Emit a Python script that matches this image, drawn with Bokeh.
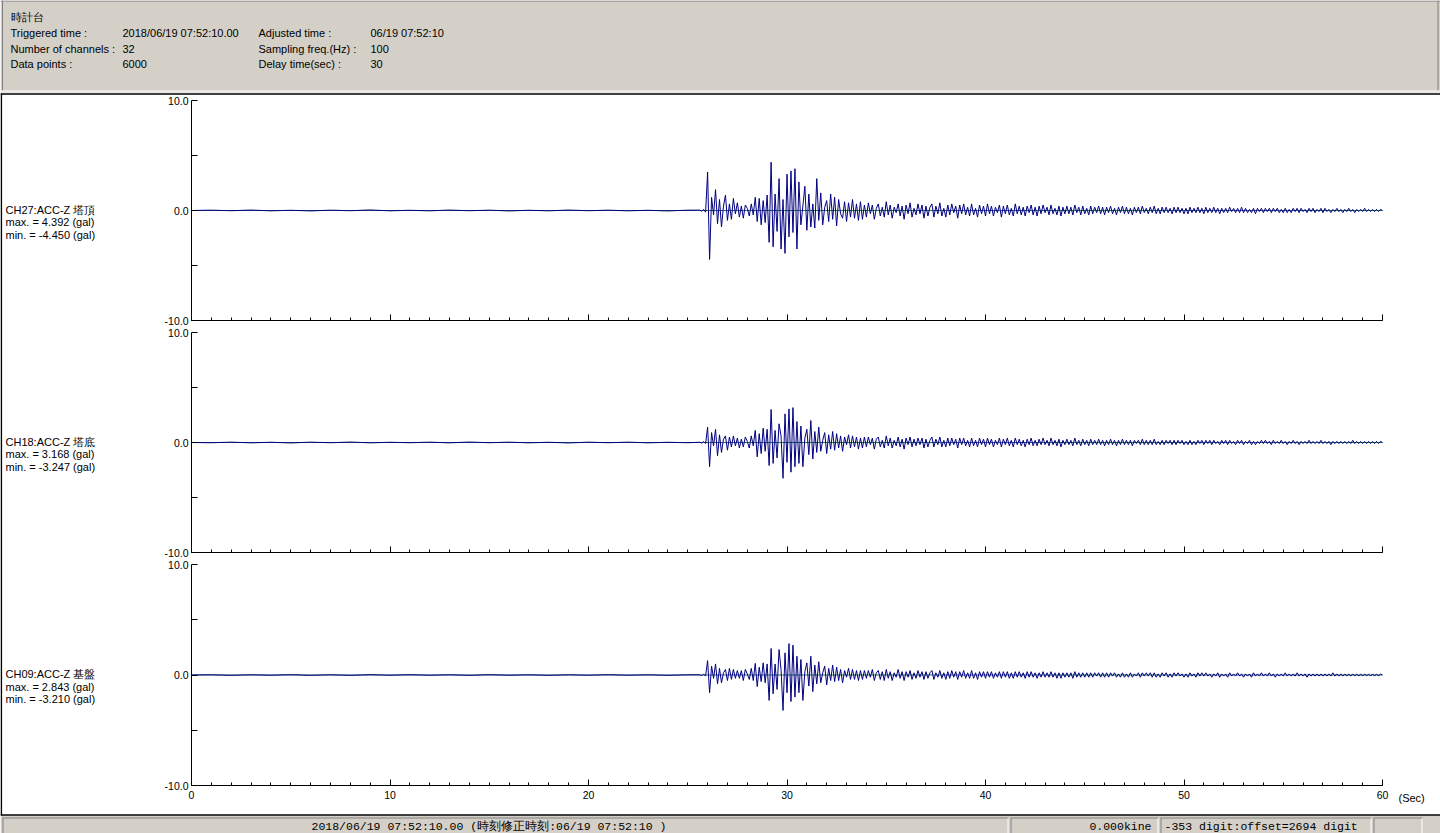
import numpy as np
from bokeh.plotting import figure
from bokeh.models import Range1d, LinearAxis, FixedTicker, ColumnDataSource
from bokeh.core.properties import value
from bokeh.embed import file_html
from bokeh.resources import INLINE

# ---------------- data ----------------
header_labels = ["Triggered time :", "Number of channels :", "Data points :",
                 "Adjusted time :", "Sampling freq.(Hz) :", "Delay time(sec) :"]
header_values = ["2018/06/19 07:52:10.00", "32", "6000",
                 "06/19 07:52:10", "100", "30"]
station = "時計台"

channel_names = ["CH27:ACC-Z 塔頂", "CH18:ACC-Z 塔底", "CH09:ACC-Z 基盤"]
channel_max = [4.392, 3.168, 2.843]
channel_min = [-4.450, -3.247, -3.210]

y_ticks = [-10, -5, 0, 5, 10]
y_tick_labels = ["-10.0", "", "0.0", "", "10.0"]
x_major = [0, 10, 20, 30, 40, 50, 60]
x_minor = list(range(0, 61))
x_unit = "(Sec)"

status_left = "2018/06/19 07:52:10.00  (時刻修正時刻:06/19 07:52:10  )"
status_mid = "0.000kine"
status_right = "-353 digit:offset=2694 digit"

# sample times (s): pre-event every 1 s, main shaking 25.6-34.0 and coda 34.1-60.0 every 0.1 s
t_pre = np.arange(0, 26) * 1.0
t_main = np.round(np.arange(256, 341) * 0.1, 1)
t_tail = np.round(np.arange(341, 601) * 0.1, 1)

# accelerations (gal) read from the record
ch27_pre = [0.00, 0.03, -0.02, 0.04, -0.03, 0.02, -0.04, 0.03, -0.02, 0.05, -0.03, 0.02, -0.03,
            0.04, -0.02, 0.03, -0.04, 0.02, -0.03, 0.04, -0.02, 0.03, -0.03, 0.02, -0.04, 0.03]
ch27_main = [0.03, -0.06, 0.10, -0.15, 3.50, -4.45, 1.20, -0.40, 1.90, -1.20,
             1.00, -1.50, 0.40, 1.40, -0.90, 0.60, -0.80, 1.10, -0.30, 0.70,
             -0.60, 0.40, -0.70, 0.50, 0.20, -0.50, 0.60, -0.40, 1.20, -1.00,
             1.10, -1.30, 0.90, -1.10, 1.40, -2.90, 4.39, -3.30, 1.50, -1.90,
             2.90, -3.50, 1.00, -3.90, 3.30, -2.40, 3.60, -2.00, 3.80, -3.50,
             2.60, -1.30, 0.40, 2.20, -1.80, 1.50, -1.50, 0.60, -1.60, 2.90,
             -0.90, 1.60, -1.30, 0.30, 0.90, -1.00, 1.50, -0.80, 1.20, -1.40,
             1.00, -0.30, -0.70, 0.80, -1.00, 0.70, -0.60, 1.00, -0.70, 0.60,
             -0.90, 0.80, -0.80, 0.50, -0.60]
ch27_tail = [0.7, -0.3, 0.5, -0.8, 0.2, 0.6, -0.5, 0.3, -0.6, 0.8,
             -0.4, 0.5, -0.7, 0.3, -0.2, 0.6, -0.5, 0.4, -0.8, 0.5,
             -0.3, 0.7, -0.6, 0.2, -0.4, 0.6, -0.3, 0.5, -0.7, 0.4,
             -0.5, 0.3, 0.6, -0.6, 0.4, -0.3, 0.7, -0.5, 0.2, -0.6,
             0.5, -0.4, 0.6, -0.2, 0.4, -0.7, 0.5, -0.3, 0.6, -0.4,
             0.3, -0.5, 0.6, -0.4, 0.2, -0.6, 0.5, -0.3, 0.4, -0.5,
             0.6, -0.3, 0.4, -0.5, 0.3, -0.2, 0.5, -0.6, 0.4, -0.3,
             0.5, -0.4, 0.2, -0.5, 0.6, -0.3, 0.4, -0.4, 0.3, -0.5,
             0.4, -0.2, 0.5, -0.4, 0.3, -0.5, 0.4, -0.3, 0.5, -0.2,
             0.3, -0.4, 0.5, -0.3, 0.2, -0.4, 0.4, -0.5, 0.3, -0.3,
             0.4, -0.3, 0.3, -0.4, 0.5, -0.2, 0.3, -0.4, 0.4, -0.3,
             0.2, -0.4, 0.4, -0.3, 0.3, -0.2, 0.4, -0.3, 0.3, -0.4,
             0.3, -0.2, 0.4, -0.3, 0.2, -0.4, 0.3, -0.2, 0.4, -0.3,
             0.3, -0.3, 0.2, -0.4, 0.3, -0.2, 0.3, -0.3, 0.4, -0.2,
             0.2, -0.3, 0.3, -0.2, 0.4, -0.3, 0.2, -0.3, 0.3, -0.2,
             0.3, -0.2, 0.2, -0.3, 0.3, -0.2, 0.3, -0.2, 0.2, -0.3,
             0.2, -0.3, 0.3, -0.2, 0.2, -0.2, 0.3, -0.2, 0.2, -0.3,
             0.3, -0.2, 0.2, -0.2, 0.3, -0.2, 0.2, -0.3, 0.2, -0.2,
             0.2, -0.2, 0.3, -0.1, 0.2, -0.2, 0.2, -0.2, 0.3, -0.2,
             0.2, -0.2, 0.1, -0.2, 0.2, -0.3, 0.2, -0.1, 0.2, -0.2,
             0.2, -0.1, 0.2, -0.2, 0.2, -0.1, 0.2, -0.2, 0.1, -0.2,
             0.2, -0.2, 0.1, -0.2, 0.2, -0.1, 0.2, -0.2, 0.2, -0.1,
             0.1, -0.2, 0.2, -0.1, 0.2, -0.2, 0.1, -0.1, 0.2, -0.2,
             0.2, -0.1, 0.1, -0.2, 0.1, -0.1, 0.2, -0.1, 0.1, -0.2,
             0.1, -0.1, 0.2, -0.1, 0.1, -0.2, 0.1, -0.1, 0.1, -0.1,
             0.2, -0.1, 0.1, -0.1, 0.1, -0.1, 0.1, -0.1, 0.1, 0.0]

ch18_pre = [0.00, -0.02, 0.03, -0.03, 0.02, -0.04, 0.03, -0.02, 0.04, -0.03, 0.02, -0.02, 0.03,
            -0.03, 0.04, -0.02, 0.03, -0.03, 0.02, -0.04, 0.03, -0.02, 0.03, -0.03, 0.02, -0.02]
ch18_main = [0.02, -0.05, 0.08, -0.10, 1.40, -2.20, 0.90, -0.30, 1.20, -1.20,
             0.70, -0.90, 0.30, 0.60, -0.70, 0.50, -0.40, 0.60, -0.30, 0.40,
             -0.50, 0.30, -0.40, 0.50, 0.10, -0.50, 0.60, -0.30, 1.10, -1.30,
             0.80, -1.00, 1.30, -0.80, 1.20, -2.10, 3.00, -1.90, 1.10, -1.40,
             1.70, 0.60, -3.25, 2.60, -1.80, 3.05, -2.70, 3.17, -2.20, 1.90,
             -1.90, 1.50, -2.20, 0.40, 1.20, -1.10, 2.00, -1.50, 1.00, -0.90,
             1.40, -0.80, 0.20, 0.90, -1.00, 0.70, -0.60, 1.00, -0.70, 0.80,
             -0.50, 0.60, -0.80, 0.50, -0.20, 0.70, -0.50, 0.60, -0.40, 0.50,
             -0.60, 0.40, -0.50, 0.50, -0.40]
ch18_tail = [0.5, -0.2, 0.4, -0.6, 0.3, 0.5, -0.4, 0.2, -0.5, 0.6,
             -0.3, 0.4, -0.5, 0.2, -0.3, 0.5, -0.4, 0.3, -0.6, 0.4,
             -0.2, 0.5, -0.4, 0.3, -0.3, 0.4, -0.2, 0.4, -0.5, 0.3,
             -0.4, 0.2, 0.5, -0.4, 0.3, -0.2, 0.5, -0.4, 0.2, -0.4,
             0.4, -0.3, 0.4, -0.2, 0.3, -0.5, 0.4, -0.2, 0.4, -0.3,
             0.2, -0.4, 0.4, -0.3, 0.2, -0.4, 0.4, -0.2, 0.3, -0.4,
             0.4, -0.2, 0.3, -0.4, 0.2, -0.2, 0.4, -0.4, 0.3, -0.2,
             0.4, -0.3, 0.2, -0.4, 0.4, -0.2, 0.3, -0.3, 0.2, -0.4,
             0.3, -0.2, 0.4, -0.3, 0.2, -0.3, 0.3, -0.2, 0.4, -0.2,
             0.2, -0.3, 0.4, -0.2, 0.2, -0.3, 0.3, -0.4, 0.2, -0.2,
             0.3, -0.2, 0.2, -0.3, 0.4, -0.2, 0.2, -0.3, 0.3, -0.2,
             0.2, -0.3, 0.3, -0.2, 0.2, -0.2, 0.3, -0.2, 0.2, -0.3,
             0.2, -0.2, 0.3, -0.2, 0.2, -0.3, 0.2, -0.2, 0.3, -0.2,
             0.2, -0.2, 0.2, -0.3, 0.2, -0.1, 0.2, -0.2, 0.3, -0.2,
             0.2, -0.2, 0.2, -0.2, 0.3, -0.2, 0.1, -0.2, 0.2, -0.2,
             0.2, -0.1, 0.2, -0.2, 0.2, -0.2, 0.2, -0.1, 0.2, -0.2,
             0.1, -0.2, 0.2, -0.2, 0.1, -0.2, 0.2, -0.1, 0.2, -0.2,
             0.2, -0.1, 0.2, -0.2, 0.2, -0.1, 0.1, -0.2, 0.2, -0.1,
             0.2, -0.2, 0.2, -0.1, 0.1, -0.2, 0.2, -0.1, 0.2, -0.2,
             0.1, -0.1, 0.2, -0.2, 0.1, -0.2, 0.1, -0.1, 0.2, -0.1,
             0.2, -0.1, 0.1, -0.2, 0.2, -0.1, 0.1, -0.1, 0.2, -0.1,
             0.1, -0.2, 0.1, -0.1, 0.2, -0.1, 0.1, -0.2, 0.1, -0.1,
             0.1, -0.1, 0.2, -0.1, 0.1, -0.1, 0.1, -0.1, 0.2, -0.1,
             0.1, -0.1, 0.1, -0.2, 0.1, -0.1, 0.1, -0.1, 0.1, -0.1,
             0.1, -0.1, 0.1, -0.1, 0.2, -0.1, 0.1, -0.1, 0.1, -0.1,
             0.1, -0.1, 0.1, -0.1, 0.1, -0.1, 0.1, -0.1, 0.1, 0.0]

ch09_pre = [0.00, 0.02, -0.03, 0.02, -0.02, 0.03, -0.03, 0.02, -0.03, 0.03, -0.02, 0.03, -0.02,
            0.02, -0.03, 0.03, -0.02, 0.02, -0.03, 0.02, -0.02, 0.03, -0.02, 0.02, -0.03, 0.02]
ch09_main = [0.02, -0.04, 0.06, -0.08, 1.30, -1.60, 0.80, -0.30, 1.00, -0.80,
             0.60, -0.70, 0.20, 0.50, -0.50, 0.60, -0.40, 0.50, -0.30, 0.40,
             -0.30, 0.40, -0.50, 0.50, 0.10, -0.40, 0.60, -0.50, 1.05, -1.05,
             0.70, -0.60, 1.10, -0.70, 1.00, -2.30, 2.40, -1.70, 1.00, -1.30,
             2.30, 0.50, -3.21, 2.00, -1.60, 2.84, -2.40, 2.70, -2.00, 1.70,
             -1.60, 1.40, -2.30, 0.30, 1.10, -1.00, 1.70, -1.50, 0.90, -0.80,
             1.20, -0.70, 0.20, 0.80, -0.90, 0.60, -0.50, 0.90, -0.60, 0.70,
             -0.50, 0.50, -0.70, 0.40, -0.20, 0.60, -0.40, 0.50, -0.40, 0.40,
             -0.50, 0.40, -0.40, 0.40, -0.30]
ch09_tail = [0.4, -0.2, 0.5, -0.5, 0.2, 0.4, -0.4, 0.3, -0.5, 0.5,
             -0.3, 0.3, -0.5, 0.2, -0.2, 0.5, -0.3, 0.3, -0.5, 0.3,
             -0.2, 0.4, -0.4, 0.2, -0.3, 0.4, -0.2, 0.3, -0.4, 0.3,
             -0.3, 0.2, 0.4, -0.4, 0.2, -0.2, 0.4, -0.3, 0.2, -0.4,
             0.3, -0.3, 0.4, -0.2, 0.3, -0.4, 0.3, -0.2, 0.4, -0.3,
             0.2, -0.3, 0.4, -0.3, 0.2, -0.4, 0.3, -0.2, 0.3, -0.3,
             0.3, -0.2, 0.3, -0.3, 0.2, -0.2, 0.3, -0.3, 0.3, -0.2,
             0.3, -0.3, 0.2, -0.3, 0.3, -0.2, 0.3, -0.2, 0.2, -0.3,
             0.3, -0.2, 0.3, -0.2, 0.2, -0.3, 0.2, -0.2, 0.3, -0.2,
             0.2, -0.2, 0.3, -0.2, 0.2, -0.3, 0.2, -0.3, 0.2, -0.2,
             0.2, -0.2, 0.2, -0.3, 0.3, -0.2, 0.2, -0.2, 0.2, -0.2,
             0.2, -0.2, 0.2, -0.2, 0.2, -0.1, 0.2, -0.2, 0.2, -0.2,
             0.2, -0.2, 0.2, -0.1, 0.2, -0.2, 0.1, -0.2, 0.2, -0.2,
             0.1, -0.2, 0.2, -0.2, 0.1, -0.1, 0.2, -0.2, 0.2, -0.1,
             0.2, -0.1, 0.2, -0.2, 0.2, -0.2, 0.1, -0.2, 0.2, -0.1,
             0.2, -0.2, 0.1, -0.2, 0.2, -0.1, 0.2, -0.1, 0.1, -0.2,
             0.1, -0.2, 0.2, -0.1, 0.1, -0.2, 0.2, -0.1, 0.2, -0.1,
             0.2, -0.1, 0.1, -0.2, 0.1, -0.1, 0.2, -0.2, 0.1, -0.1,
             0.1, -0.2, 0.2, -0.1, 0.1, -0.1, 0.2, -0.1, 0.1, -0.2,
             0.1, -0.1, 0.1, -0.2, 0.2, -0.1, 0.1, -0.1, 0.2, -0.1,
             0.1, -0.1, 0.2, -0.1, 0.1, -0.2, 0.1, -0.1, 0.1, -0.1,
             0.2, -0.1, 0.1, -0.1, 0.1, -0.1, 0.2, -0.1, 0.1, -0.1,
             0.1, -0.2, 0.1, -0.1, 0.1, -0.1, 0.1, -0.1, 0.1, -0.1,
             0.1, -0.1, 0.1, -0.1, 0.2, -0.1, 0.1, -0.1, 0.1, -0.1,
             0.1, -0.1, 0.1, -0.1, 0.1, -0.1, 0.1, -0.1, 0.1, -0.1,
             0.1, -0.1, 0.1, -0.1, 0.1, -0.1, 0.1, -0.1, 0.1, 0.0]

series = [(ch27_pre, ch27_main, ch27_tail),
          (ch18_pre, ch18_main, ch18_tail),
          (ch09_pre, ch09_main, ch09_tail)]

# ---------------- layout (screen pixels of the 1440x833 window) ----------------
PX0, PY0 = 0, 0
W, H = 1440, 833
X0_PX, X60_PX = 191, 1382
PANELS = [(100, 320), (332, 552), (564, 785)]   # (+10 gal, -10 gal) pixel rows
LAB_X = 5
GRAY = "#d4d0c8"
FONT = "Liberation Sans"
MONO = "Liberation Mono"

p = figure(width=W, height=H, output_backend="svg", toolbar_location=None,
           x_range=Range1d(PX0, PX0 + W), y_range=Range1d(PY0 + H, PY0),
           x_axis_type=None, y_axis_type=None, min_border=0,
           outline_line_color=None, background_fill_color="white",
           border_fill_color="white")

sx = (X60_PX - X0_PX) / 60.0
p.extra_x_ranges["sec"] = Range1d(-(X0_PX - PX0) / sx, 60 + (PX0 + W - X60_PX) / sx)
for k, (top, bot) in enumerate(PANELS):
    sy = (bot - top) / 20.0
    p.extra_y_ranges[f"p{k}"] = Range1d(-10 - (PY0 + H - bot) / sy, 10 + (top - PY0) / sy)


def put_text(xs, ys, texts, font=FONT, size="11px", align="left", baseline="middle"):
    src = ColumnDataSource(dict(x=xs, y=ys, t=texts))
    p.text("x", "y", text="t", source=src, text_font=value(font),
           text_font_size=value(size), text_align=align, text_baseline=baseline,
           text_color="black")


# header box
p.quad(left=0, right=1440, top=0, bottom=92, fill_color=GRAY, line_color=None)
p.line([0, 1440], [0.5, 0.5], line_color="#808080", line_width=1)
p.line([2, 2], [0, 90], line_color="#808080", line_width=1)
p.line([1437.5, 1437.5], [0, 90], line_color="#808080", line_width=1)
p.line([0, 1440], [90.5, 90.5], line_color="white", line_width=1)
p.line([0, 1440], [93.5, 93.5], line_color="black", line_width=1.5)
p.line([0.8, 0.8], [93, 815], line_color="black", line_width=1.6)

put_text([10], [16], [station])
put_text([10, 10, 10, 258, 258, 258], [32, 48, 63.5, 32, 48, 63.5], header_labels)
put_text([122, 122, 122, 370, 370, 370], [32, 48, 63.5, 32, 48, 63.5], header_values)

# status bar
p.quad(left=0, right=1440, top=815, bottom=840, fill_color=GRAY, line_color=None)
p.line([0, 1440], [814.5, 814.5], line_color="black", line_width=1.5)
for (l, r) in [(2, 1008), (1010, 1158), (1160, 1371), (1373, 1422)]:
    p.line([l, r], [817.5, 817.5], line_color="#808080", line_width=1)
    p.line([l + 0.5, l + 0.5], [817.5, 840], line_color="#808080", line_width=1)
    p.line([r - 0.5, r - 0.5], [818, 840], line_color="white", line_width=1)
put_text([311], [825.5], [status_left], font=MONO, size="11.5px")
put_text([1151], [825.5], [status_mid], font=MONO, size="11.5px", align="right")
put_text([1164], [825.5], [status_right], font=MONO, size="11.5px")

# panels
t_all = np.concatenate([t_pre, t_main, t_tail])
for k, (pre, main, tail) in enumerate(series):
    yr = f"p{k}"
    v = np.concatenate([pre, main, tail])
    assert len(v) == len(t_all), (k, len(pre), len(main), len(tail))
    p.line([x_major[0], x_major[-1]], [0, 0], x_range_name="sec", y_range_name=yr,
           line_color="#2f6f6a", line_width=1)
    p.line(t_all, v, x_range_name="sec", y_range_name=yr, line_color="#000080", line_width=1)

    yax = LinearAxis(x_range_name="sec", y_range_name=yr, fixed_location=0, bounds=(-10, 10),
                     ticker=FixedTicker(ticks=y_ticks, minor_ticks=[]),
                     major_label_overrides={t: s for t, s in zip(y_ticks, y_tick_labels)},
                     major_tick_in=6, major_tick_out=0, minor_tick_in=0, minor_tick_out=0,
                     major_label_standoff=3, axis_line_color="black",
                     major_tick_line_color="black",
                     major_label_text_font=FONT, major_label_text_font_size="10.5px",
                     major_label_text_color="black")
    p.add_layout(yax, "left")

    last = (k == len(series) - 1)
    xax = LinearAxis(x_range_name="sec", y_range_name=yr, fixed_location=-10, bounds=(0, 60),
                     ticker=FixedTicker(ticks=x_major, minor_ticks=x_minor),
                     major_label_overrides={} if last else {t: "" for t in x_major},
                     major_tick_in=6, major_tick_out=0, minor_tick_in=3, minor_tick_out=0,
                     major_label_standoff=5, axis_line_color="black",
                     major_tick_line_color="black", minor_tick_line_color="black",
                     major_label_text_font=FONT, major_label_text_font_size="10.5px",
                     major_label_text_color="black")
    p.add_layout(xax, "below")

    y0 = (PANELS[k][0] + PANELS[k][1]) / 2.0
    put_text([LAB_X] * 3, [y0 - 1, y0 + 11.5, y0 + 24],
             [channel_names[k],
              f"max. = {channel_max[k]:.3f} (gal)",
              f"min. = {channel_min[k]:.3f} (gal)"])

put_text([1398], [797], [x_unit], size="11px")

open("out.html", "w").write(file_html(p, INLINE))
